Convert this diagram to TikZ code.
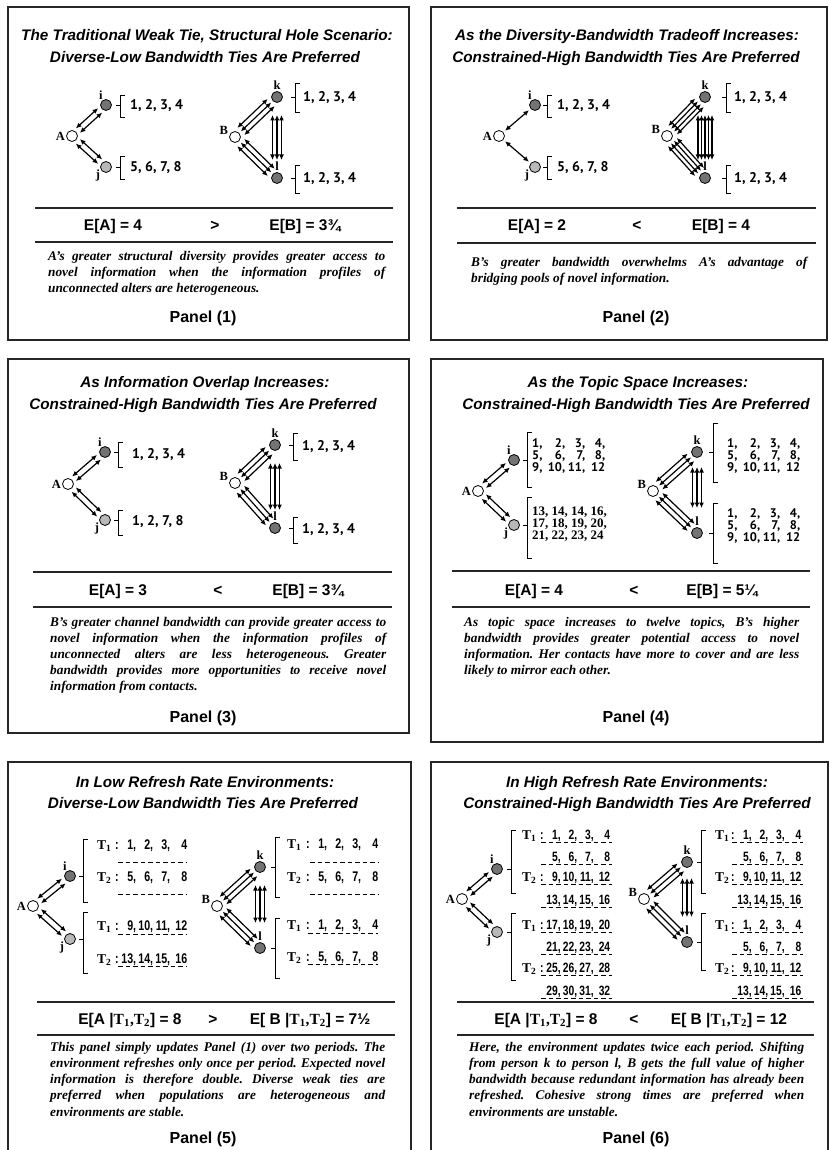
\documentclass[tikz,border=0pt]{standalone}
\usepackage{fontspec}
\setmainfont{Liberation Serif}
\newfontfamily\arialf{Liberation Sans}
\newfontfamily\narrowf[FakeStretch=0.76]{Liberation Sans}
\newfontfamily\gillf{PT Sans}
\usetikzlibrary{arrows.meta,calc}
\hyphenpenalty=10000 \exhyphenpenalty=10000 \tolerance=10000
\frenchspacing
\definecolor{dkg}{gray}{0.45}
\definecolor{ltg}{gray}{0.72}
\tikzset{
 frame/.style={draw=black!85, line width=1.4pt},
 sepl/.style={draw=black!85, line width=1.1pt},
 ttl/.style={font=\arialf\bfseries\itshape\fontsize{15.3}{18}\selectfont, inner sep=0, anchor=base},
 plab/.style={font=\arialf\bfseries\fontsize{16}{18}\selectfont, inner sep=0, anchor=base},
 erow/.style={font=\arialf\bfseries\fontsize{15.5}{18}\selectfont, inner sep=0, anchor=base},
 desc/.style={font=\bfseries\itshape\fontsize{13.3}{16}\selectfont, text width=336pt, align=justify, inner sep=0, anchor=base west},
 dot/.style={circle, draw, line width=0.8pt, minimum size=11pt, inner sep=0},
 nl/.style={font=\bfseries\fontsize{12.5}{14}\selectfont, inner sep=1pt},
 tiel/.style={line width=1.2pt, {Latex[length=5.5pt,width=5pt]}-{Latex[length=5.5pt,width=5pt]}},
 brkl/.style={line width=0.8pt},
 num/.style={font=\gillf\bfseries\fontsize{14}{16}\selectfont, inner sep=0, anchor=base west},
 numb/.style={font=\gillf\bfseries\fontsize{12.5}{12}\selectfont, inner sep=0, anchor=base west},
 tnum/.style={font=\bfseries\fontsize{13}{12}\selectfont, inner sep=0, anchor=base west},
 tlab/.style={font=\bfseries\fontsize{13.5}{14}\selectfont, inner sep=0, anchor=base west},
 nrowf/.style={font=\narrowf\bfseries\fontsize{14}{13}\selectfont, inner sep=0, anchor=base west},
 nrows/.style={font=\narrowf\bfseries\fontsize{13.5}{13}\selectfont, inner sep=0, anchor=base west},
 dsh/.style={line width=0.9pt, dash pattern=on 4.5pt off 3pt},
}
\newcommand\leftnet[4]{%
 \node[dot,fill=white,label={[nl]180:A}] (#1A) at (#2) {};
 \node[dot,fill=dkg,label={[nl,label distance=-1.5pt]120:i}] (#1i) at (#3) {};
 \node[dot,fill=ltg,label={[nl,label distance=-1pt]195:j}] (#1j) at (#4) {};}
\newcommand\rightnet[4]{%
 \node[dot,fill=white,label={[nl]170:B}] (#1B) at (#2) {};
 \node[dot,fill=dkg,label={[nl]90:k}] (#1k) at (#3) {};
 \node[dot,fill=dkg,label={[nl]90:l}] (#1l) at (#4) {};}
\newcommand\tie[5]{%
 \foreach \o in {#5}{%
  \draw[tiel] ($(#1)!#3!(#2)!\o pt!90:(#2)$) -- ($(#2)!#4!(#1)!\o pt!-90:(#1)$);}}
\newcommand\brk[4]{\draw[brkl] (#1+5,#2) -- (#1,#2) -- (#1,#3) -- (#1+5,#3) (#1,#4) -- (#1-4,#4);}
\newcommand\TT{{\rmfamily T\textsubscript{1},T\textsubscript{2}}}
\newcommand\cw[2]{\makebox[#1][r]{#2}}
\newcommand\qrow[4]{\makebox[13pt][l]{#1}\cw{20pt}{#2}\cw{20pt}{#3}\cw{20pt}{#4}}
\newcommand\frow[5]{\makebox[4pt][l]{#1}\cw{17pt}{#2}\cw{17pt}{#3}\cw{17pt}{#4}\cw{17pt}{#5}}
\newcommand\srow[5]{\makebox[4pt][l]{#1}\cw{16.5pt}{#2}\cw{16.5pt}{#3}\cw{16.5pt}{#4}\cw{16.5pt}{#5}}
\begin{document}
\begin{tikzpicture}[x=1pt,y=-1pt]
\useasboundingbox (0,0) rectangle (828,1150);
\fill[white] (0,0) rectangle (828,1150);

% ---------------- Panel 1
\begin{scope}[shift={(8,7)}]
\draw[frame] (0,0) rectangle (401,333);
\node[ttl] (p1t1) at (199,33.5) {The Traditional Weak Tie, Structural Hole Scenario:};
\node[ttl] (p1t2) at (197,55.5) {Diverse-Low Bandwidth Ties Are Preferred};
\leftnet{p1}{64,129}{98,98}{98,160}
\rightnet{p1}{227,130}{269,90}{269,171}
\tie{p1A}{p1i}{8pt}{8pt}{-3,3}
\tie{p1A}{p1j}{8pt}{8pt}{-3,3}
\tie{p1B}{p1k}{8pt}{8pt}{-5,0,5}
\tie{p1B}{p1l}{8pt}{8pt}{-5,0,5}
\tie{p1k}{p1l}{18pt}{18pt}{-4.5,0,4.5}
\brk{112}{88}{110}{98}
\brk{112}{149}{172}{160}
\brk{287}{76}{105}{90}
\brk{287}{158}{186}{171}
\node[num] (p1ni) at (122,103) {1, 2, 3, 4};
\node[num] (p1nj) at (122,165) {5, 6, 7, 8};
\node[num] (p1nk) at (295,95) {1, 2, 3, 4};
\node[num] (p1nl) at (295,176) {1, 2, 3, 4};
\draw[sepl] (27,201) -- (385,201);
\draw[sepl] (27,235) -- (385,235);
\node[erow] (p1ea) at (105,224) {E[A] = 4};
\node[erow] (p1cmp) at (207,224) {>};
\node[erow] (p1eb) at (297,224) {E[B] = 3¾};
\node[desc,text width=337pt] (p1d) at (40,254) {A’s greater structural diversity provides greater access to\linebreak novel information when the information profiles of\linebreak unconnected alters are heterogeneous.};
\node[plab] (p1p) at (195,315) {Panel (1)};
\end{scope}

% ---------------- Panel 2
\begin{scope}[shift={(431,7)}]
\draw[frame] (0,0) rectangle (396,333);
\node[ttl] (p2t1) at (196,33.5) {As the Diversity-Bandwidth Tradeoff Increases:};
\node[ttl] (p2t2) at (195,55.5) {Constrained-High Bandwidth Ties Are Preferred};
\leftnet{p2}{68,129}{104,98}{104,160}
\rightnet{p2}{236,129}{274,90}{274,171}
\tie{p2A}{p2i}{8pt}{8pt}{0}
\tie{p2A}{p2j}{8pt}{8pt}{0}
\tie{p2B}{p2k}{8pt}{8pt}{-6,-2,2,6}
\tie{p2B}{p2l}{8pt}{8pt}{-6,-2,2,6}
\tie{p2k}{p2l}{18pt}{18pt}{-7,-3.5,0,3.5,7}
\brk{116}{88}{110}{98}
\brk{116}{149}{172}{160}
\brk{295}{76}{105}{90}
\brk{295}{158}{186}{171}
\node[num] (p2ni) at (126,103) {1, 2, 3, 4};
\node[num] (p2nj) at (126,165) {5, 6, 7, 8};
\node[num] (p2nk) at (303,95) {1, 2, 3, 4};
\node[num] (p2nl) at (303,176) {1, 2, 3, 4};
\draw[sepl] (26,201) -- (385,201);
\draw[sepl] (26,236) -- (385,236);
\node[erow] (p2ea) at (106,224) {E[A] = 2};
\node[erow] (p2cmp) at (206,224) {<};
\node[erow] (p2eb) at (290,224) {E[B] = 4};
\node[desc] (p2d) at (40,259) {B’s greater bandwidth overwhelms A’s advantage of\linebreak bridging pools of novel information.};
\node[plab] (p2p) at (205,315) {Panel (2)};
\end{scope}

% ---------------- Panel 3
\begin{scope}[shift={(8,359)}]
\draw[frame] (0,0) rectangle (401,374);
\node[ttl] (p3t1) at (197,28.5) {As Information Overlap Increases:};
\node[ttl] (p3t2) at (195,50.5) {Constrained-High Bandwidth Ties Are Preferred};
\leftnet{p3}{60,125}{97,93}{97,161}
\rightnet{p3}{227,124}{267,86}{267,169}
\tie{p3A}{p3i}{8pt}{8pt}{-3,3}
\tie{p3A}{p3j}{8pt}{8pt}{-3,3}
\tie{p3B}{p3k}{8pt}{8pt}{-5,0,5}
\tie{p3B}{p3l}{8pt}{8pt}{-5,0,5}
\tie{p3k}{p3l}{18pt}{18pt}{-4.5,0,4.5}
\brk{110}{83}{108}{93}
\brk{110}{151}{176}{161}
\brk{285}{74}{101}{86}
\brk{285}{158}{184}{169}
\node[num] (p3ni) at (124,99) {1, 2, 3, 4};
\node[num] (p3nj) at (124,166) {1, 2, 7, 8};
\node[num] (p3nk) at (294,91) {1, 2, 3, 4};
\node[num] (p3nl) at (294,174) {1, 2, 3, 4};
\draw[sepl] (25,213) -- (384,213);
\draw[sepl] (25,248) -- (384,248);
\node[erow] (p3ea) at (110,236) {E[A] = 3};
\node[erow] (p3cmp) at (210,236) {<};
\node[erow] (p3eb) at (300,236) {E[B] = 3¾};
\node[desc] (p3d) at (42,267) {B’s greater channel bandwidth can provide greater access to\linebreak novel information when the information profiles of\linebreak unconnected alters are less heterogeneous. Greater\linebreak bandwidth provides more opportunities to receive novel\linebreak information from contacts.};
\node[plab] (p3p) at (195,363) {Panel (3)};
\end{scope}

% ---------------- Panel 4
\begin{scope}[shift={(431,359)}]
\draw[frame] (0,0) rectangle (392,383);
\node[ttl] (p4t1) at (207,28.5) {As the Topic Space Increases:};
\node[ttl] (p4t2) at (205,50.5) {Constrained-High Bandwidth Ties Are Preferred};
\leftnet{p4}{47,132}{83,101}{83,166}
\rightnet{p4}{222,132}{266,93}{266,174}
\tie{p4A}{p4i}{8pt}{8pt}{-3,3}
\tie{p4A}{p4j}{8pt}{8pt}{-3,3}
\tie{p4B}{p4k}{8pt}{8pt}{-5,0,5}
\tie{p4B}{p4l}{8pt}{8pt}{-5,0,5}
\tie{p4k}{p4l}{15pt}{25pt}{-4.5,0,4.5}
\brk{96}{73}{128}{101}
\brk{96}{138}{199}{166}
\brk{282}{64}{123}{93}
\brk{282}{144}{204}{174}
\node[numb] (p4ni1) at (101,88.5) {\qrow{1,}{2,}{3,}{4,}};
\node[numb] (p4ni2) at (101,100.5) {\qrow{5,}{6,}{7,}{8,}};
\node[numb] (p4ni3) at (101,112.5) {\qrow{9,}{10,}{11,}{12}};
\node[tnum] (p4nj1) at (101,156) {13, 14, 14, 16,};
\node[tnum] (p4nj2) at (101,168) {17, 18, 19, 20,};
\node[tnum] (p4nj3) at (101,180) {21, 22, 23, 24};
\node[numb] (p4nk1) at (296,88.5) {\qrow{1,}{2,}{3,}{4,}};
\node[numb] (p4nk2) at (296,100.5) {\qrow{5,}{6,}{7,}{8,}};
\node[numb] (p4nk3) at (296,112.5) {\qrow{9,}{10,}{11,}{12}};
\node[numb] (p4nl1) at (296,158.5) {\qrow{1,}{2,}{3,}{4,}};
\node[numb] (p4nl2) at (296,170.5) {\qrow{5,}{6,}{7,}{8,}};
\node[numb] (p4nl3) at (296,182.5) {\qrow{9,}{10,}{11,}{12}};
\draw[sepl] (21,212) -- (379,212);
\draw[sepl] (21,248) -- (379,248);
\node[erow] (p4ea) at (103,236) {E[A] = 4};
\node[erow] (p4cmp) at (203,236) {<};
\node[erow] (p4eb) at (291,236) {E[B] = 5¼};
\node[desc,text width=335pt] (p4d) at (33,267) {As topic space increases to twelve topics, B’s higher\linebreak bandwidth provides greater potential access to novel\linebreak information. Her contacts have more to cover and are less\linebreak likely to mirror each other.};
\node[plab] (p4p) at (205,363) {Panel (4)};
\end{scope}

% ---------------- Panel 5
\begin{scope}[shift={(8,762)}]
\draw[frame] (0,400) -- (0,0) -- (403,0) -- (403,400);
\node[ttl] (p5t1) at (197,25.5) {In Low Refresh Rate Environments:};
\node[ttl] (p5t2) at (195,46.5) {Diverse-Low Bandwidth Ties Are Preferred};
\leftnet{p5}{25,144}{62,114}{62,177}
\rightnet{p5}{209,144}{252,105}{252,186}
\tie{p5A}{p5i}{8pt}{8pt}{-3,3}
\tie{p5A}{p5j}{8pt}{8pt}{-3,3}
\tie{p5B}{p5k}{8pt}{8pt}{-5,0,5}
\tie{p5B}{p5l}{8pt}{8pt}{-5,0,5}
\tie{p5k}{p5l}{18pt}{25pt}{-4.5,0,4.5}
\brk{75}{77}{140}{114}
\brk{75}{150}{211}{177}
\brk{267}{75}{135}{105}
\brk{267}{156}{216}{186}
\node[tlab] (p5iT1) at (89,87) {T\textsubscript{1}};
\node[nrowf] (p5iN1) at (107,87) {\frow{:}{1,}{2,}{3,}{4}};
\node[tlab] (p5iT2) at (89,119) {T\textsubscript{2}};
\node[nrowf] (p5iN2) at (107,119) {\frow{:}{5,}{6,}{7,}{8}};
\draw[dsh] (110,100) -- (178,100);
\draw[dsh] (110,132) -- (178,132);
\node[tlab] (p5jT1) at (89,168) {T\textsubscript{1}};
\node[nrowf] (p5jN1) at (107,168) {\frow{:}{9,}{10,}{11,}{12}};
\node[tlab] (p5jT2) at (89,201) {T\textsubscript{2}};
\node[nrowf] (p5jN2) at (107,201) {\frow{:}{13,}{14,}{15,}{16}};
\draw[dsh] (110,172) -- (178,172);
\draw[dsh] (110,204) -- (178,204);
\node[tlab] (p5kT1) at (279,86) {T\textsubscript{1}};
\node[nrowf] (p5kN1) at (298,86) {\frow{:}{1,}{2,}{3,}{4}};
\node[tlab] (p5kT2) at (279,119) {T\textsubscript{2}};
\node[nrowf] (p5kN2) at (298,119) {\frow{:}{5,}{6,}{7,}{8}};
\draw[dsh] (302,100) -- (370,100);
\draw[dsh] (302,132) -- (370,132);
\node[tlab] (p5lT1) at (279,167) {T\textsubscript{1}};
\node[nrowf] (p5lN1) at (298,167) {\frow{:}{1,}{2,}{3,}{4}};
\node[tlab] (p5lT2) at (279,199) {T\textsubscript{2}};
\node[nrowf] (p5lN2) at (298,199) {\frow{:}{5,}{6,}{7,}{8}};
\draw[dsh] (300,171) -- (370,171);
\draw[dsh] (300,202) -- (370,202);
\draw[sepl] (29,240) -- (387,240);
\draw[sepl] (29,273) -- (387,273);
\node[erow] (p5ea) at (122,262) {E[A |\TT] = 8};
\node[erow] (p5cmp) at (205,262) {>};
\node[erow] (p5eb) at (302,262) {E[ B |\TT] = 7½};
\node[desc,text width=335pt,font=\bfseries\itshape\fontsize{13.3}{16.3}\selectfont] (p5d) at (42,289) {This panel simply updates Panel (1) over two periods. The\linebreak environment refreshes only once per period. Expected novel\linebreak information is therefore double. Diverse weak ties are\linebreak preferred when populations are heterogeneous and\linebreak environments are stable.};
\node[plab] (p5p) at (195,381) {Panel (5)};
\end{scope}

% ---------------- Panel 6
\begin{scope}[shift={(431,762)}]
\draw[frame] (0,400) -- (0,0) -- (397,0) -- (397,400);
\node[ttl] (p6t1) at (206,25.5) {In High Refresh Rate Environments:};
\node[ttl] (p6t2) at (206,46.5) {Constrained-High Bandwidth Ties Are Preferred};
\leftnet{p6}{31,137}{66,107}{66,170}
\rightnet{p6}{213,137}{256,100}{256,180}
\tie{p6A}{p6i}{8pt}{8pt}{-3,3}
\tie{p6A}{p6j}{8pt}{8pt}{-3,3}
\tie{p6B}{p6k}{8pt}{8pt}{-5,0,5}
\tie{p6B}{p6l}{8pt}{8pt}{-5,0,5}
\tie{p6k}{p6l}{16pt}{25pt}{-4.5,0,4.5}
\brk{80}{68}{131}{107}
\brk{80}{151}{218}{170}
\brk{270}{68}{131}{100}
\brk{270}{151}{208}{180}
% i group
\node[tlab] (p6iT1) at (91,77.5) {T\textsubscript{1}};
\node[nrows] (p6iN1) at (109,77.5) {\srow{:}{1,}{2,}{3,}{4}};
\node[nrows] (p6iN2) at (109,99.5) {\srow{}{5,}{6,}{7,}{8}};
\node[tlab] (p6iT2) at (91,119.5) {T\textsubscript{2}};
\node[nrows] (p6iN3) at (109,119.5) {\srow{:}{9,}{10,}{11,}{12}};
\node[nrows] (p6iN4) at (109,142.5) {\srow{}{13,}{14,}{15,}{16}};
% j group
\node[tlab] (p6jT1) at (91,167.5) {T\textsubscript{1}};
\node[nrows] (p6jN1) at (109,167.5) {\srow{:}{17,}{18,}{19,}{20}};
\node[nrows] (p6jN2) at (109,189.5) {\srow{}{21,}{22,}{23,}{24}};
\node[tlab] (p6jT2) at (91,210.5) {T\textsubscript{2}};
\node[nrows] (p6jN3) at (109,210.5) {\srow{:}{25,}{26,}{27,}{28}};
\node[nrows] (p6jN4) at (109,233.5) {\srow{}{29,}{30,}{31,}{32}};
% k group
\node[tlab] (p6kT1) at (284,77.5) {T\textsubscript{1}};
\node[nrows] (p6kN1) at (300,77.5) {\srow{:}{1,}{2,}{3,}{4}};
\node[nrows] (p6kN2) at (300,99.5) {\srow{}{5,}{6,}{7,}{8}};
\node[tlab] (p6kT2) at (284,119.5) {T\textsubscript{2}};
\node[nrows] (p6kN3) at (300,119.5) {\srow{:}{9,}{10,}{11,}{12}};
\node[nrows] (p6kN4) at (300,142.5) {\srow{}{13,}{14,}{15,}{16}};
% l group
\node[tlab] (p6lT1) at (284,167.5) {T\textsubscript{1}};
\node[nrows] (p6lN1) at (300,167.5) {\srow{:}{1,}{2,}{3,}{4}};
\node[nrows] (p6lN2) at (300,189.5) {\srow{}{5,}{6,}{7,}{8}};
\node[tlab] (p6lT2) at (284,210.5) {T\textsubscript{2}};
\node[nrows] (p6lN3) at (300,210.5) {\srow{:}{9,}{10,}{11,}{12}};
\node[nrows] (p6lN4) at (300,233.5) {\srow{}{13,}{14,}{15,}{16}};
\foreach \yy in {80.5,102.5,122.5,145.5,170.5,192.5,213.5,236.5}{
  \draw[dsh] (110,\yy) -- (181,\yy);
  \draw[dsh] (301,\yy) -- (372,\yy);}
\draw[sepl] (26,240) -- (383,240);
\draw[sepl] (26,273) -- (383,273);
\node[erow] (p6ea) at (115,262) {E[A |\TT] = 8};
\node[erow] (p6cmp) at (203,262) {<};
\node[erow] (p6eb) at (298,262) {E[ B |\TT] = 12};
\node[desc,text width=335pt,font=\bfseries\itshape\fontsize{13.3}{16.3}\selectfont] (p6d) at (38,289) {Here, the environment updates twice each period. Shifting\linebreak from person k to person l, B gets the full value of higher\linebreak bandwidth because redundant information has already been\linebreak refreshed. Cohesive strong times are preferred when\linebreak environments are unstable.};
\node[plab] (p6p) at (205,381) {Panel (6)};
\end{scope}
\end{tikzpicture}
\end{document}
